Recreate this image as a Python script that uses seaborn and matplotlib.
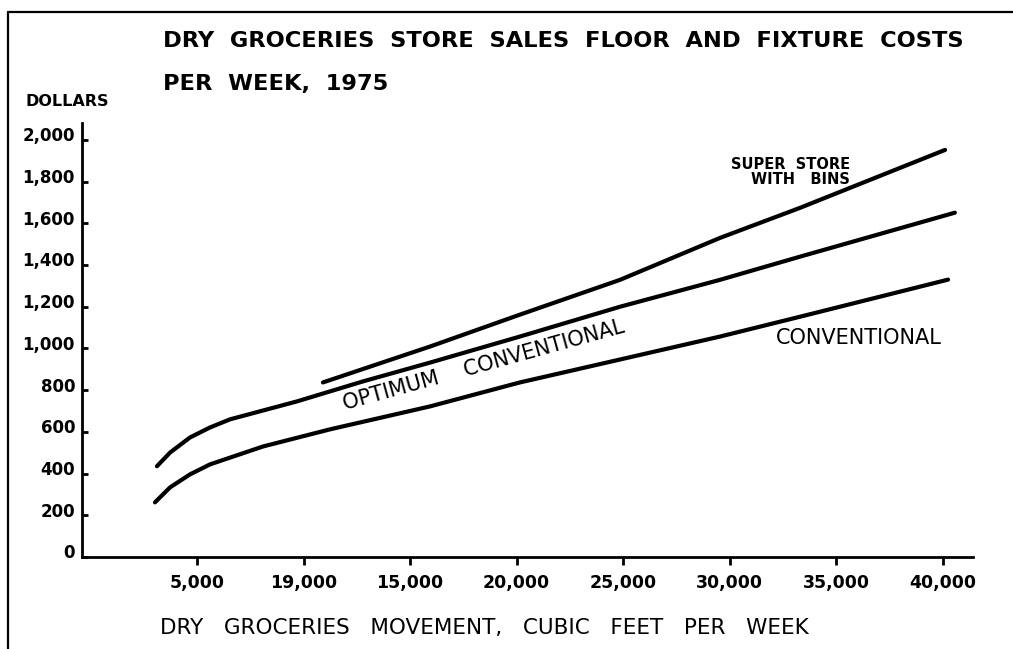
"""Dry groceries store sales floor and fixture costs per week, 1975."""

import matplotlib

matplotlib.use("Agg")

import matplotlib.pyplot as plt
import matplotlib.transforms as mtransforms
import pandas as pd
import seaborn as sns
from matplotlib.lines import Line2D

# values (cubic feet per week -> dollars per week)
conventional_x = [3030, 3740, 4670, 5610, 8100, 11240, 15930, 20150, 24850, 29540, 33290, 40240]
conventional_y = [262, 334, 396, 444, 530, 612, 722, 837, 947, 1057, 1152, 1330]

optimum_x = [3120, 3740, 4670, 5610, 6550, 9690, 12790, 15930, 20150, 24850, 29540, 33290, 40560]
optimum_y = [435, 501, 573, 621, 660, 746, 842, 932, 1057, 1200, 1329, 1440, 1651]

super_x = [10910, 15930, 20150, 24850, 29540, 33290, 35640, 40100]
super_y = [837, 1009, 1162, 1329, 1530, 1674, 1770, 1952]

x_ticks = [5000, 10000, 15000, 20000, 25000, 30000, 35000, 40000]
x_tick_labels = ["5,000", "19,000", "15,000", "20,000", "25,000", "30,000", "35,000", "40,000"]
y_ticks = [0, 200, 400, 600, 800, 1000, 1200, 1400, 1600, 1800, 2000]
y_tick_labels = ["0", "200", "400", "600", "800", "1,000", "1,200", "1,400", "1,600", "1,800", "2,000"]

series = pd.concat(
    [
        pd.DataFrame({"movement": conventional_x, "cost": conventional_y, "store": "Conventional"}),
        pd.DataFrame({"movement": optimum_x, "cost": optimum_y, "store": "Optimum conventional"}),
        pd.DataFrame({"movement": super_x, "cost": super_y, "store": "Super store with bins"}),
    ],
    ignore_index=True,
)

sns.set_theme(style="white")
plt.rcParams["font.family"] = ["DejaVu Sans"]
plt.rcParams["text.color"] = "black"

W, H = 1013, 649
fig = plt.figure(figsize=(W / 100, H / 100), dpi=100)
ax = fig.add_axes([82 / W, 1 - 557 / H, (973 - 82) / W, (557 - 123) / H])

sns.lineplot(
    data=series,
    x="movement",
    y="cost",
    hue="store",
    palette=["black", "black", "black"],
    linewidth=3.0,
    sort=False,
    estimator=None,
    legend=False,
    ax=ax,
)
for line in ax.get_lines():
    line.set_solid_capstyle("round")
    line.set_solid_joinstyle("round")

ax.set_xlim(-394, 41410)
ax.set_ylim(0, 2081)
sns.despine(ax=ax)
for side in ["left", "bottom"]:
    ax.spines[side].set_linewidth(2.0)
    ax.spines[side].set_color("black")

ax.set_xticks(x_ticks)
ax.set_xticklabels(x_tick_labels, fontsize=12.5, fontweight="bold")
ax.set_yticks(y_ticks)
ax.set_yticklabels(y_tick_labels, fontsize=12, fontweight="bold")
ax.tick_params(axis="x", direction="out", length=6, width=2, pad=6, color="black", labelcolor="black")
ax.tick_params(axis="y", direction="in", length=4, width=2, pad=5, color="black", labelcolor="black")
ax.tick_params(left=True, bottom=True)
shift = mtransforms.ScaledTranslation(0, 4 / 72, fig.dpi_scale_trans)
for lab in ax.get_yticklabels():
    lab.set_transform(lab.get_transform() + shift)
ax.set_xlabel("")
ax.set_ylabel("")

# curve labels
ax.text(35640, 1846, "SUPER  STORE\nWITH   BINS", ha="right", va="center",
        multialignment="right", fontsize=10.5, fontweight="bold", linespacing=1.0)
ax.text(39950, 1052, "CONVENTIONAL", ha="right", va="center", fontsize=15)
ax.text(18470, 918, "OPTIMUM    CONVENTIONAL", ha="center", va="center",
        rotation=15.5, rotation_mode="anchor", fontsize=15)

# titles and axis captions
fig.text(163 / W, 1 - 41 / H, "DRY  GROCERIES  STORE  SALES  FLOOR  AND  FIXTURE  COSTS",
         ha="left", va="center", fontsize=16.2, fontweight="bold")
fig.text(163 / W, 1 - 84 / H, "PER  WEEK,  1975", ha="left", va="center",
         fontsize=16.2, fontweight="bold")
fig.text(25 / W, 1 - 101 / H, "DOLLARS", ha="left", va="center", fontsize=11.5, fontweight="bold")
fig.text(160 / W, 1 - 628 / H, "DRY   GROCERIES   MOVEMENT,   CUBIC   FEET   PER   WEEK",
         ha="left", va="center", fontsize=15.5)

# frame of the scanned page
fig.add_artist(Line2D([8 / W, 1.0], [1 - 12 / H, 1 - 12 / H], transform=fig.transFigure,
                      color="black", linewidth=1.6))
fig.add_artist(Line2D([8 / W, 8 / W], [1 - 12 / H, 0.0], transform=fig.transFigure,
                      color="black", linewidth=1.6))

fig.savefig("out.png", dpi=100, facecolor="white")
plt.close(fig)
